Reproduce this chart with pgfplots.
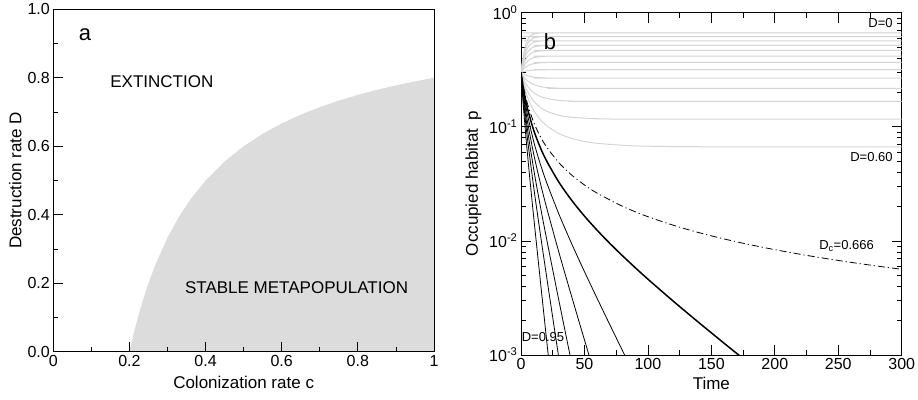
\documentclass[border=0pt]{standalone}
\usepackage{fontspec}
\setmainfont{Liberation Sans}
\usepackage{pgfplots}
\pgfplotsset{compat=1.18}
\definecolor{shade}{RGB}{220,220,220}
\definecolor{lgrey}{RGB}{212,212,212}
\newcommand{\tl}{\fontsize{16}{18}\selectfont}
\newcommand{\al}{\fontsize{17}{20}\selectfont}
\begin{document}
\begin{tikzpicture}[x=1pt,y=1pt]
\useasboundingbox (0,0) rectangle (918,399);
% ---------------- panel a ----------------
\begin{axis}[
  at={(53.3pt,47.3pt)}, anchor=south west,
  scale only axis, width=380.7pt, height=342.4pt,
  xmin=0, xmax=1, ymin=0, ymax=1,
  axis on top,
  tick align=inside,
  xtick pos=left, ytick pos=left,
  xtick={0,0.2,0.4,0.6,0.8,1}, ytick={0,0.2,0.4,0.6,0.8,1},
  xticklabels={0,0.2,0.4,0.6,0.8,1},
  yticklabels={0.0,0.2,0.4,0.6,0.8,1.0},
  minor x tick num=1, minor y tick num=1,
  major tick length=10pt, minor tick length=5pt,
  every tick/.style={black, line width=0.8pt},
  axis line style={line width=0.9pt},
  ticklabel style={font=\tl},
  xlabel={Colonization rate c}, ylabel={Destruction rate D},
  every axis x label/.style={at={(axis description cs:0.5,-0.0885)}, anchor=center, font=\al},
  every axis y label/.style={at={(axis description cs:-0.1,0.5)}, rotate=90, anchor=center, font=\al},
]
\addplot[fill=shade, draw=none] coordinates {
(0.20,0) (0.205,0.0244) (0.21,0.0476) (0.215,0.0698) (0.22,0.0909) (0.23,0.1304) (0.24,0.1667)
(0.25,0.2) (0.27,0.2593) (0.30,0.3333) (0.33,0.3939) (0.36,0.4444) (0.40,0.5)
(0.45,0.5556) (0.50,0.6) (0.55,0.6364) (0.60,0.6667) (0.65,0.6923) (0.70,0.7143)
(0.75,0.7333) (0.80,0.75) (0.85,0.7647) (0.90,0.7778) (0.95,0.7895) (1.00,0.8)
} \closedcycle;
\node[font=\fontsize{22}{24}\selectfont] at (axis cs:0.0834,0.925) {a};
\node[font=\al] at (axis cs:0.285,0.789) {EXTINCTION};
\node[font=\al] at (axis cs:0.639,0.186) {STABLE METAPOPULATION};
\end{axis}
% ---------------- panel b ----------------
\begin{axis}[
  at={(521pt,44pt)}, anchor=south west,
  scale only axis, width=380.7pt, height=342.3pt,
  xmin=0, xmax=300, ymode=log, ymin=1e-3, ymax=1,
  tick align=inside,
  xtick={0,50,100,150,200,250,300},
  xticklabels={0,50,100,150,200,250,300},
  ytick={1e-3,1e-2,1e-1,1},
  yticklabels={10\textsuperscript{-3},10\textsuperscript{-2},10\textsuperscript{-1},10\textsuperscript{0}},
  minor x tick num=1,
  major tick length=10pt, minor tick length=5pt,
  every tick/.style={black, line width=0.8pt},
  axis line style={line width=0.9pt},
  ticklabel style={font=\tl},
  xlabel={Time}, ylabel={Occupied habitat\hspace{0.45em}p},
  every axis x label/.style={at={(axis description cs:0.5,-0.082)}, anchor=center, font=\al},
  every axis y label/.style={at={(axis description cs:-0.125,0.5)}, rotate=90, anchor=center, font=\al},
  every axis plot/.append style={line join=round},
]
% grey lines D = 0 ... 0.60
\addplot[lgrey, line width=1pt, smooth] coordinates {(0,0.3) (1,0.3665) (2,0.4303) (4,0.5347) (6,0.6001) (8,0.6351) (10,0.6521) (15,0.6647) (20,0.6665) (300,0.6667)};
\addplot[lgrey, line width=1pt, smooth] coordinates {(0,0.3) (1,0.3567) (2,0.4101) (4,0.4972) (6,0.5533) (8,0.5847) (10,0.6010) (15,0.6142) (20,0.6163) (300,0.6167)};
\addplot[lgrey, line width=1pt, smooth] coordinates {(0,0.3) (1,0.3471) (2,0.3907) (4,0.4614) (6,0.5080) (8,0.5353) (10,0.5504) (15,0.5636) (20,0.5661) (300,0.5667)};
\addplot[lgrey, line width=1pt, smooth] coordinates {(0,0.3) (1,0.3378) (2,0.3721) (4,0.4274) (6,0.4644) (8,0.4872) (10,0.5004) (15,0.5131) (20,0.5159) (30,0.5167) (300,0.5167)};
\addplot[lgrey, line width=1pt, smooth] coordinates {(0,0.3) (1,0.3287) (2,0.3542) (4,0.3951) (6,0.4229) (8,0.4406) (10,0.4514) (15,0.4628) (20,0.4657) (30,0.4666) (300,0.4667)};
\addplot[lgrey, line width=1pt, smooth] coordinates {(0,0.3) (1,0.3198) (2,0.3372) (4,0.3645) (6,0.3834) (8,0.3959) (10,0.4038) (15,0.4129) (20,0.4156) (30,0.4166) (300,0.4167)};
\addplot[lgrey, line width=1pt, smooth] coordinates {(0,0.3) (1,0.3112) (2,0.3208) (4,0.3357) (6,0.3462) (8,0.3532) (10,0.3579) (15,0.3637) (20,0.3657) (30,0.3666) (300,0.3667)};
\addplot[lgrey, line width=1pt, smooth] coordinates {(0,0.3) (2,0.3051) (5,0.3100) (10,0.3141) (15,0.3157) (20,0.3163) (30,0.3167) (300,0.3167)};
\addplot[lgrey, line width=1pt, smooth] coordinates {(0,0.3) (2,0.2901) (5,0.2807) (10,0.2728) (15,0.2694) (20,0.2679) (30,0.2669) (300,0.2667)};
\addplot[lgrey, line width=1pt, smooth] coordinates {(0,0.3) (2,0.2758) (5,0.2534) (10,0.2344) (15,0.2256) (20,0.2213) (30,0.2179) (40,0.2170) (300,0.2167)};
\addplot[lgrey, line width=1pt, smooth] coordinates {(0,0.3) (2,0.2621) (5,0.2282) (10,0.1993) (15,0.1851) (20,0.1774) (30,0.1705) (40,0.1681) (60,0.1669) (300,0.1667)};
\addplot[lgrey, line width=1pt, smooth] coordinates {(0,0.3) (2,0.2490) (5,0.2050) (10,0.1676) (15,0.1484) (20,0.1374) (30,0.1261) (40,0.1212) (60,0.1178) (80,0.1170) (300,0.1167)};
\addplot[lgrey, line width=1pt, smooth] coordinates {(0,0.3) (2,0.2365) (5,0.1836) (10,0.1393) (15,0.1164) (20,0.1025) (30,0.0871) (40,0.0791) (50,0.0745) (60,0.0717) (80,0.0689) (100,0.0676) (150,0.0668) (300,0.0667)};
% critical D_c = 0.666 (dash-dot)
\addplot[black, line width=0.8pt, dash pattern=on 7pt off 3pt on 1.2pt off 3pt, smooth] coordinates {(0,0.3) (2,0.2226) (5,0.1604) (10,0.1095) (15,0.0831) (20,0.0670) (30,0.04823) (40,0.03769) (50,0.03093) (60,0.02622) (80,0.02011) (100,0.01630) (125,0.01319) (150,0.01107) (175,0.00954) (200,0.00838) (225,0.00747) (250,0.00674) (275,0.00614) (300,0.00564)};
% D = 0.70 (thick)
\addplot[black, line width=1.5pt, smooth] coordinates {(0,0.3) (2,0.2130) (5,0.14621) (10,0.09334) (15,0.06669) (20,0.05069) (30,0.03253) (40,0.02263) (50,0.01650) (60,0.012396) (70,0.009508) (80,0.007402) (90,0.005826) (100,0.004623) (120,0.002963) (140,0.001930) (160,0.0012694) (175,0.000931)};
% steeper thin black lines
\addplot[black, line width=0.8pt, smooth] coordinates {(0,0.3) (2,0.2016) (5,0.1292) (10,0.07442) (15,0.04804) (20,0.03293) (30,0.01703) (40,0.009413) (50,0.005381) (60,0.003133) (70,0.001843) (80,0.001091) (85,0.000840)};
\addplot[black, line width=0.8pt, smooth] coordinates {(0,0.3) (2,0.1900) (5,0.1129) (10,0.05773) (15,0.03300) (20,0.01992) (30,0.007840) (40,0.003232) (50,0.001357) (56,0.000809)};
\addplot[black, line width=0.8pt, smooth] coordinates {(0,0.3) (1,0.2265) (2,0.1773) (5,0.09628) (10,0.04246) (15,0.02078) (20,0.010641) (30,0.002947) (40,0.000838)};
\addplot[black, line width=0.8pt, smooth] coordinates {(0,0.3) (1,0.2173) (2,0.1638) (5,0.08009) (10,0.02958) (15,0.011976) (20,0.005017) (25,0.002131) (31,0.000769)};
\addplot[black, line width=0.8pt, smooth] coordinates {(0,0.3) (1,0.2034) (2,0.1444) (4,0.07852) (6,0.04521) (8,0.02682) (10,0.01618) (14,0.006045) (18,0.002293) (22,0.000875)};
% labels
\node[font=\fontsize{22}{24}\selectfont] at (axis cs:22.9,0.557) {b};
\node[font=\fontsize{13}{15}\selectfont, anchor=east, inner sep=0pt] at (axis cs:293,0.807) {D=0};
\node[font=\fontsize{13}{15}\selectfont, anchor=east, inner sep=0pt] at (axis cs:293,0.0547) {D=0.60};
\node[font=\fontsize{13}{15}\selectfont, anchor=base east, inner sep=0pt] at (axis cs:278.2,0.00844) {D\textsubscript{c}=0.666};
\node[font=\fontsize{13}{15}\selectfont, anchor=west, inner sep=0pt] at (axis cs:0.5,0.00145) {D=0.95};
\end{axis}
\end{tikzpicture}
\end{document}
